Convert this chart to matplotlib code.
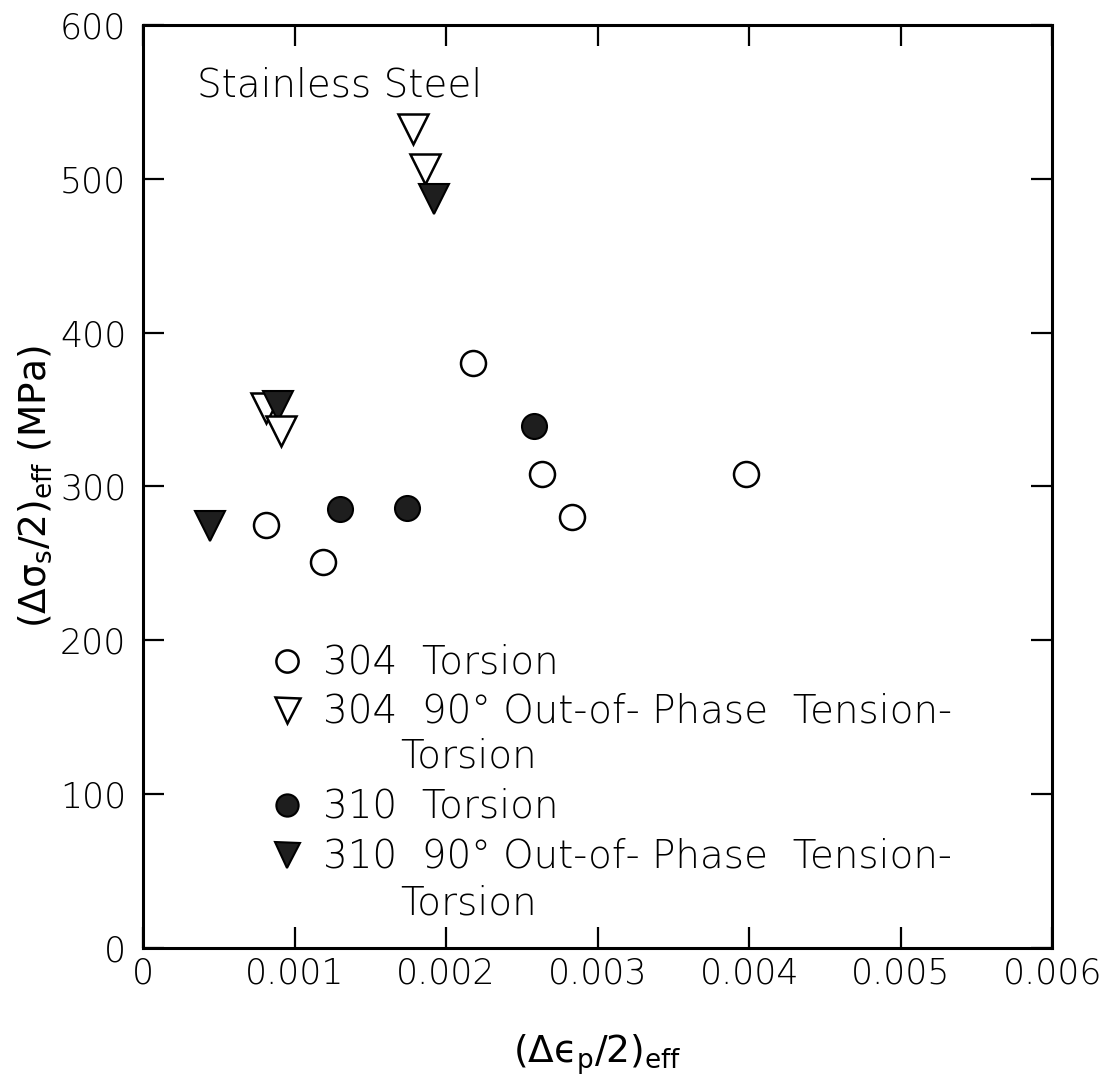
import numpy as np
import matplotlib
matplotlib.use('Agg')
import matplotlib.pyplot as plt

plt.rcParams['font.family'] = ['DejaVu Sans']
plt.rcParams['font.weight'] = 'light'
plt.rcParams['mathtext.fontset'] = 'custom'
plt.rcParams['mathtext.rm'] = 'DejaVu Sans:light'
plt.rcParams['mathtext.it'] = 'DejaVu Sans:light'
plt.rcParams['mathtext.default'] = 'regular'
plt.rcParams['mathtext.fallback'] = 'stixsans'

# Data: effective plastic strain vs effective shear stress (MPa)
tor304_x = [0.00081, 0.00119, 0.00218, 0.00263, 0.00283, 0.00398]
tor304_y = [275, 251, 380, 308, 280, 308]

oop304_x = [0.00178, 0.00186, 0.00081, 0.00091]
oop304_y = [532, 506, 351, 336]

tor310_x = [0.00130, 0.00174, 0.00258]
tor310_y = [285, 286, 339]

oop310_x = [0.00192, 0.00089, 0.00044]
oop310_y = [487, 352, 274]

xticks = [0, 0.001, 0.002, 0.003, 0.004, 0.005, 0.006]
xticklabels = ['0', '0.001', '0.002', '0.003', '0.004', '0.005', '0.006']
yticks = [0, 100, 200, 300, 400, 500, 600]

legend_rows = ['304  Torsion', '304  90° Out-of- Phase  Tension-', 'Torsion',
               '310  Torsion', '310  90° Out-of- Phase  Tension-', 'Torsion']

fig = plt.figure(figsize=(11.17, 10.82), dpi=100)
ax = fig.add_axes([0.128, 0.124, 0.814, 0.853])

ink = '#000000'
fill = '#1e1e1e'

# filled triangles under the open ones (mostly)
ax.plot(oop310_x, oop310_y, ls='none', marker='v', ms=22, mfc=fill, mec=ink, mew=1.5, zorder=4)
oop304_z = [3, 3, 3, 5]
for xv, yv, z in zip(oop304_x, oop304_y, oop304_z):
    ax.plot([xv], [yv], ls='none', marker='v', ms=22, mfc='white', mec=ink, mew=1.8, zorder=z)
ax.plot(tor304_x, tor304_y, ls='none', marker='o', ms=18, mfc='white', mec=ink, mew=1.8, zorder=4)
ax.plot(tor310_x, tor310_y, ls='none', marker='o', ms=18, mfc=fill, mec=ink, mew=1.5, zorder=4)

ax.set_xlim(0, 0.006)
ax.set_ylim(0, 600)
ax.set_xticks(xticks)
ax.set_xticklabels(xticklabels)
ax.set_yticks(yticks)

for sp in ax.spines.values():
    sp.set_linewidth(2.2)
    sp.set_color(ink)
ax.tick_params(direction='in', length=15, width=1.6, colors=ink, labelsize=25,
               top=True, right=True)
ax.tick_params(axis='x', pad=6)
ax.tick_params(axis='y', pad=12)

ax.set_xlabel(r'$(\Delta ϵ_p/2)_{eff}$', fontsize=27, labelpad=30)
ax.set_ylabel(r'$(\Delta\sigma_s/2)_{eff}$ (MPa)', fontsize=27, labelpad=4)

ax.text(0.059, 0.922, 'Stainless Steel', transform=ax.transAxes, fontsize=28,
        ha='left', va='baseline', color=ink)

# hand-placed legend
key_x = 0.158
text_x = 0.198
indent_x = 0.283
row_base = [0.297, 0.244, 0.195, 0.141, 0.087, 0.036]
key_style = [
    dict(marker='o', ms=16, mfc='white', mec=ink, mew=1.8),
    dict(marker='v', ms=18, mfc='white', mec=ink, mew=1.8),
    None,
    dict(marker='o', ms=16, mfc=fill, mec=ink, mew=1.5),
    dict(marker='v', ms=18, mfc=fill, mec=ink, mew=1.5),
    None,
]
for label, yb, ks in zip(legend_rows, row_base, key_style):
    if ks is None:
        ax.text(indent_x, yb, label, transform=ax.transAxes, fontsize=28,
                ha='left', va='baseline', color=ink)
    else:
        ax.plot([key_x], [yb + 0.014], transform=ax.transAxes, ls='none', clip_on=False, **ks)
        ax.text(text_x, yb, label, transform=ax.transAxes, fontsize=28,
                ha='left', va='baseline', color=ink)

plt.savefig('out.png', dpi=100)
